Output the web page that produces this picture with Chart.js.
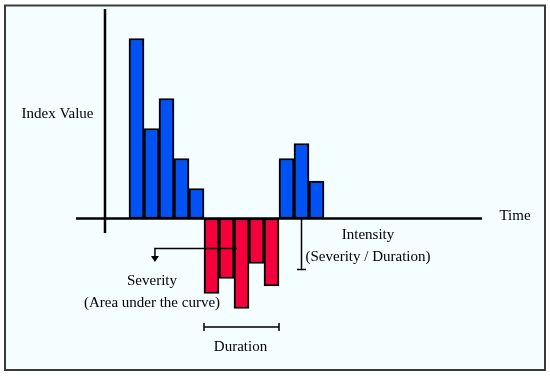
<!doctype html>
<html lang="en">
  <head>
    <meta charset="UTF-8" />
    <title>Drought index: severity, duration, intensity</title>
    <script src="https://cdn.jsdelivr.net/npm/chart.js"></script>
    <style>
      html, body { margin: 0; padding: 0; background: #ffffff; }
      canvas { display: block; }
    </style>
  </head>
  <body>
    <canvas id="indexChart" width="550" height="376"></canvas>

    <script>
      // Time steps and index values (one bar per step)
      const timeSteps = [1, 2, 3, 4, 5, 6, 7, 8, 9, 10, 11, 12, 13];
      const indexValues = [6, 3, 4, 2, 1, -2.5, -2, -3, -1.5, -2.25, 2, 2.5, 1.25];

      const BLUE = "rgb(0, 82, 245)";
      const RED = "rgb(245, 0, 60)";
      const FONT = "15px 'Liberation Serif', 'Times New Roman', serif";

      // Axes, frame and annotations drawn on top of the bars
      const schematic = {
        id: "schematic",
        beforeDraw(chart) {
          const ctx = chart.ctx;
          ctx.save();
          ctx.fillStyle = "#ffffff";
          ctx.fillRect(0, 0, chart.width, chart.height);
          ctx.fillStyle = "#f4fefe";
          ctx.fillRect(5, 5, 540, 365);
          ctx.strokeStyle = "#3a3a3a";
          ctx.lineWidth = 2;
          ctx.strokeRect(5, 5.5, 540, 364.5);
          ctx.restore();
        },
        afterDatasetsDraw(chart) {
          const ctx = chart.ctx;
          const xs = chart.scales.x;
          const ys = chart.scales.y;
          const area = chart.chartArea;
          const y0 = ys.getPixelForValue(0);

          ctx.save();
          ctx.strokeStyle = "#000";
          ctx.fillStyle = "#000";

          // axes
          ctx.lineWidth = 2.5;
          ctx.beginPath();
          ctx.moveTo(area.left, y0);
          ctx.lineTo(area.right, y0);
          const yAxisX = xs.getPixelForValue(-1.1);
          ctx.moveTo(yAxisX, area.top);
          ctx.lineTo(yAxisX, ys.getPixelForValue(-0.48));
          ctx.stroke();

          ctx.lineWidth = 1.5;

          // severity arrow
          const sevY = ys.getPixelForValue(-1);
          const arrowX = xs.getPixelForValue(2.23);
          const tipY = ys.getPixelForValue(-1.45);
          ctx.beginPath();
          ctx.moveTo(xs.getPixelForValue(7.7), sevY);
          ctx.lineTo(arrowX, sevY);
          ctx.lineTo(arrowX, tipY - 5);
          ctx.stroke();
          ctx.beginPath();
          ctx.moveTo(arrowX - 4, tipY - 6);
          ctx.lineTo(arrowX + 4, tipY - 6);
          ctx.lineTo(arrowX, tipY);
          ctx.closePath();
          ctx.fill();

          // duration bracket
          const dL = xs.getPixelForValue(5.5);
          const dR = xs.getPixelForValue(10.5);
          const dY = 327;
          ctx.beginPath();
          ctx.moveTo(dL, dY);
          ctx.lineTo(dR, dY);
          ctx.moveTo(dL, dY - 4);
          ctx.lineTo(dL, dY + 4);
          ctx.moveTo(dR, dY - 4);
          ctx.lineTo(dR, dY + 4);
          ctx.stroke();

          // intensity marker
          const iX = xs.getPixelForValue(12);
          const iB = ys.getPixelForValue(-1.7);
          ctx.beginPath();
          ctx.moveTo(iX, y0);
          ctx.lineTo(iX, iB);
          ctx.moveTo(iX - 4.5, iB);
          ctx.lineTo(iX + 4.5, iB);
          ctx.stroke();

          // labels
          ctx.font = FONT;
          ctx.textAlign = "center";
          ctx.textBaseline = "middle";
          ctx.fillText("Index Value", 57.5, 114);
          ctx.fillText("Time", 515, 216);
          ctx.fillText("Intensity", 368, 235);
          ctx.fillText("(Severity / Duration)", 368, 257);
          ctx.fillText("Severity", 152, 281);
          ctx.fillText("(Area under the curve)", 152, 303);
          ctx.fillText("Duration", 240.5, 347);
          ctx.restore();
        },
      };

      const ctx = document.getElementById("indexChart").getContext("2d");

      const indexChart = new Chart(ctx, {
        type: "bar",
        data: {
          datasets: [
            {
              data: timeSteps.map((t, i) => ({ x: t, y: indexValues[i] })),
              backgroundColor: indexValues.map((v) => (v >= 0 ? BLUE : RED)),
              borderColor: "#000",
              borderWidth: 2,
              borderSkipped: false,
              barPercentage: 1,
              categoryPercentage: 1,
              clip: false,
            },
          ],
        },
        options: {
          responsive: false,
          animation: false,
          layout: { padding: { left: 76, right: 68, top: 9, bottom: 36 } },
          plugins: {
            legend: { display: false },
            tooltip: { enabled: false },
          },
          scales: {
            x: {
              type: "linear",
              min: -3.033,
              max: 24.033,
              offset: false,
              display: false,
            },
            y: { min: -4.05, max: 6.983, display: false },
          },
        },
        plugins: [schematic],
      });
    </script>
  </body>
</html>
